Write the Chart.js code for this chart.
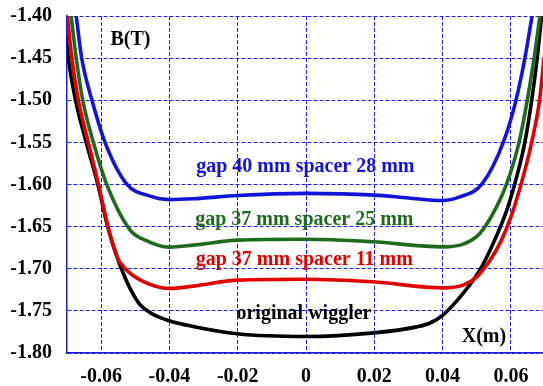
<!DOCTYPE html>
<html>
<head>
<meta charset="utf-8">
<script src="https://cdn.jsdelivr.net/npm/chart.js@4"></script>
<style>
  body { margin: 0; background: #fff; }
</style>
</head>
<body>
<canvas id="myChart" width="543" height="386"></canvas>
<script>
// tick labels
const xTicks = [-0.06, -0.04, -0.02, 0, 0.02, 0.04, 0.06];
const yTicks = [-1.80, -1.75, -1.70, -1.65, -1.60, -1.55, -1.50, -1.45, -1.40];

// gap 40 mm spacer 28 mm
const blueX = [-0.0673, -0.0657, -0.0627, -0.0589, -0.0525, -0.0457, -0.0401, -0.0330, -0.0200, 0.0000, 0.0200, 0.0300, 0.0400, 0.0448, 0.0515, 0.0578, 0.0615, 0.0641, 0.0662];
const blueY = [-1.400, -1.4499, -1.4998, -1.5496, -1.5995, -1.6138, -1.6179, -1.617, -1.613, -1.6105, -1.6126, -1.616, -1.619, -1.615, -1.5995, -1.5496, -1.4998, -1.4499, -1.400];

// gap 37 mm spacer 25 mm
const greenX = [-0.0688, -0.0673, -0.0654, -0.0623, -0.0584, -0.0515, -0.0471, -0.0401, -0.0330, -0.0200, 0.0000, 0.0196, 0.0400, 0.0460, 0.0509, 0.0558, 0.0588, 0.0624, 0.0648, 0.0668, 0.0685];
const greenY = [-1.400, -1.4499, -1.4998, -1.5496, -1.5995, -1.6541, -1.666, -1.6743, -1.672, -1.666, -1.665, -1.668, -1.674, -1.6708, -1.6581, -1.6265, -1.5987, -1.5496, -1.4998, -1.4499, -1.400];

// gap 37 mm spacer 11 mm
const redX = [-0.0699, -0.0686, -0.0667, -0.0638, -0.0608, -0.0580, -0.0554, -0.0530, -0.0476, -0.0401, -0.0330, -0.0200, 0.0000, 0.0196, 0.0401, 0.0460, 0.0500, 0.0539, 0.0571, 0.0603, 0.0641, 0.0661, 0.0684, 0.0697, 0.0709];
const redY = [-1.400, -1.4499, -1.4998, -1.5496, -1.5995, -1.650, -1.6853, -1.6997, -1.7154, -1.7234, -1.7206, -1.7135, -1.7124, -1.7155, -1.7227, -1.7195, -1.7096, -1.690, -1.6672, -1.6351, -1.5829, -1.5496, -1.4998, -1.4499, -1.400];

// original wiggler
const blackX = [-0.0708, -0.0696, -0.0675, -0.0644, -0.0610, -0.0581, -0.0554, -0.0536, -0.0512, -0.0486, -0.0451, -0.0401, -0.0331, -0.0202, 0.0000, 0.0199, 0.0324, 0.0363, 0.0401, 0.0460, 0.0509, 0.0548, 0.0588, 0.0617, 0.0641, 0.0661, 0.0677, 0.0690];
const blackY = [-1.400, -1.4499, -1.4998, -1.5496, -1.5995, -1.650, -1.6853, -1.7047, -1.726, -1.7427, -1.7534, -1.7617, -1.7685, -1.7772, -1.7804, -1.7761, -1.769, -1.7644, -1.7549, -1.7293, -1.7017, -1.670, -1.6304, -1.5908, -1.5496, -1.4998, -1.4499, -1.400];

const seriesNames = ['gap 40 mm spacer 28 mm', 'gap 37 mm spacer 25 mm', 'gap 37 mm spacer 11 mm', 'original wiggler'];

function pts(xs, ys) {
    return xs.map((x, i) => ({x: x, y: ys[i]}));
}

const labelFont = 'bold 20px "Liberation Serif", "Times New Roman", serif';

// text written inside the plot, placed in data units
const notes = [
    {text: 'B(T)', x: -0.0514, y: -1.434, color: '#000000'},
    {text: 'X(m)', x: 0.0521, y: -1.7866, color: '#000000'},
    {text: seriesNames[0], x: -0.0002, y: -1.5849, color: '#1414d8'},
    {text: seriesNames[1], x: -0.0005, y: -1.6482, color: '#1e6b1e'},
    {text: seriesNames[2], x: -0.0005, y: -1.6957, color: '#e00000'},
    {text: seriesNames[3], x: -0.0006, y: -1.7602, color: '#000000'}
];

const notesPlugin = {
    id: 'notes',
    afterDatasetsDraw(chart) {
        const ctx = chart.ctx;
        const xs = chart.scales.x;
        const ys = chart.scales.y;
        ctx.save();
        ctx.font = labelFont;
        ctx.textAlign = 'center';
        ctx.textBaseline = 'alphabetic';
        notes.forEach(n => {
            ctx.fillStyle = n.color;
            ctx.fillText(n.text, xs.getPixelForValue(n.x), ys.getPixelForValue(n.y));
        });
        ctx.restore();
    }
};

const gridColor = '#1c1ce0';
const tickFont = {family: 'Liberation Serif', size: 20, weight: 'bold'};

const ctx = document.getElementById('myChart').getContext('2d');
const chart = new Chart(ctx, {
    type: 'line',
    data: {
        datasets: [
            {label: seriesNames[0], data: pts(blueX, blueY), borderColor: '#1414d8'},
            {label: seriesNames[1], data: pts(greenX, greenY), borderColor: '#1e6b1e'},
            {label: seriesNames[2], data: pts(redX, redY), borderColor: '#e00000'},
            {label: seriesNames[3], data: pts(blackX, blackY), borderColor: '#000000'}
        ]
    },
    options: {
        responsive: false,
        animation: false,
        layout: {padding: {top: 16, right: 0, left: 0, bottom: 0}},
        elements: {
            line: {borderWidth: 3.6, cubicInterpolationMode: 'monotone', borderCapStyle: 'round'},
            point: {radius: 0}
        },
        plugins: {
            legend: {display: false},
            tooltip: {enabled: false}
        },
        scales: {
            x: {
                type: 'linear',
                min: -0.07,
                max: 0.0694,
                afterBuildTicks: s => { s.ticks = xTicks.map(v => ({value: v})); },
                afterFit: s => { s.height = 33; s.paddingLeft = 0; s.paddingRight = 0; },
                ticks: {
                    font: tickFont,
                    color: '#000',
                    padding: 12,
                    maxRotation: 0,
                    callback: v => v === 0 ? '0' : v.toFixed(2)
                },
                grid: {color: gridColor, lineWidth: 1, drawTicks: false},
                border: {color: gridColor, width: 1.5, dash: [4, 2]}
            },
            y: {
                type: 'linear',
                min: -1.80,
                max: -1.40,
                afterBuildTicks: s => { s.ticks = yTicks.map(v => ({value: v})); },
                afterFit: s => { s.width = 67; s.paddingTop = 0; s.paddingBottom = 0; },
                ticks: {
                    font: tickFont,
                    color: '#000',
                    padding: 15,
                    callback: v => v.toFixed(2)
                },
                grid: {color: gridColor, lineWidth: 1, drawTicks: false},
                border: {color: gridColor, width: 1.5, dash: [4, 2]}
            }
        }
    },
    plugins: [notesPlugin]
});
</script>
</body>
</html>
